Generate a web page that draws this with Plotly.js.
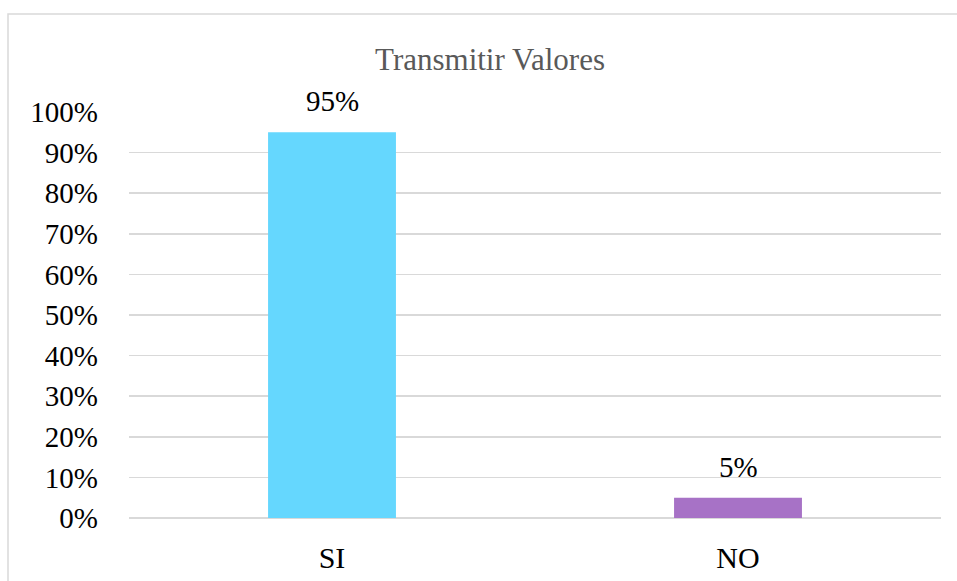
<!DOCTYPE html>
<html><head><meta charset="utf-8">
<script src="https://cdn.plot.ly/plotly-3.0.1.min.js"></script>
</head><body style="margin:0">
<div id="chart"></div>
<script>
const categories = ['SI', 'NO'];
const values = [95, 5];
const barColors = ['#65D7FE', '#A772C6'];
const yTickVals = [0,10,20,30,40,50,60,70,80,90,100];
const yTickText = yTickVals.map(v => v + '%');
const chartTitle = 'Transmitir Valores';

const FONT = "Times New Roman";
const L = 129, R = 16, T = 112, B = 63, W = 957, H = 581;
const pw = W - L - R, ph = H - T - B;
const px = x => (x - L) / pw;
const py = y => (H - B - y) / ph;

const trace = {
  type: 'bar', x: categories, y: values,
  marker: {color: barColors}, width: 0.315, hoverinfo: 'none'
};
const annotations = categories.map((c, i) => ({
  x: c, y: values[i], xref: 'x', yref: 'y', text: values[i] + '%',
  showarrow: false, yanchor: 'bottom', yshift: 13,
  font: {family: FONT, size: 29, color: '#000'}
}));
const layout = {
  width: W, height: H,
  margin: {l: L, r: R, t: T, b: B, pad: 0},
  paper_bgcolor: '#fff', plot_bgcolor: '#fff',
  showlegend: false,
  title: {text: chartTitle, font: {family: FONT, size: 31, color: '#595959'},
          x: px(490), xanchor: 'center', xref: 'paper', y: 1 - 59/H, yanchor: 'middle'},
  xaxis: {type: 'category', showgrid: false, zeroline: false, showline: false, ticks: '',
          ticklabelstandoff: 19, tickfont: {family: FONT, size: 30, color: '#000'}},
  yaxis: {range: [0, 100], tickvals: yTickVals, ticktext: yTickText, showgrid: true,
          gridcolor: '#D9D9D9', gridwidth: 1.5, zeroline: true, zerolinecolor: '#D9D9D9', zerolinewidth: 1.5,
          showline: false, ticks: '', ticklabelstandoff: 30,
          tickfont: {family: FONT, size: 29, color: '#000'}},
  annotations: annotations,
  shapes: [{type: 'rect', xref: 'paper', yref: 'paper', x0: px(8), x1: px(W + 20), y0: py(H + 20), y1: py(14),
            line: {color: '#D9D9D9', width: 1.5}, fillcolor: 'rgba(0,0,0,0)', layer: 'below'}]
};
Plotly.newPlot('chart', [trace], layout, {displayModeBar: false, staticPlot: true});
</script></body></html>
